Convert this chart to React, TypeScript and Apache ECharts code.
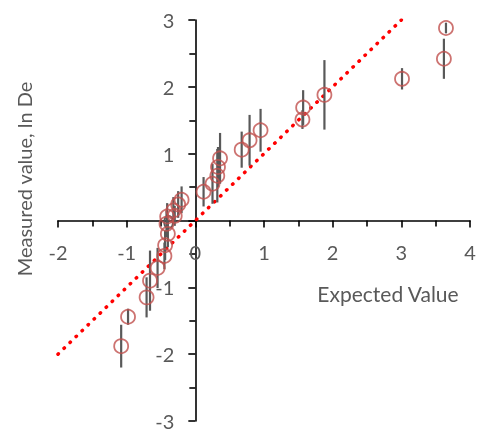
import React, { useEffect, useRef } from "react";
import * as echarts from "echarts";

const expectedValues = [-1.08, -0.98, -0.71, -0.66, -0.55, -0.45, -0.44, -0.4, -0.42, -0.41, -0.3, -0.32, -0.25, -0.2, 0.12, 0.25, 0.32, 0.33, 0.36, 0.675, 0.79, 0.95, 1.56, 1.57, 1.88, 3.01, 3.62, 3.65];
const measuredValues = [-1.88, -1.44, -1.15, -0.9, -0.71, -0.53, -0.37, -0.2, -0.05, 0.06, 0.07, 0.15, 0.24, 0.31, 0.43, 0.55, 0.67, 0.8, 0.93, 1.06, 1.2, 1.35, 1.51, 1.69, 1.88, 2.12, 2.42, 2.88];
const errorValues = [0.32, 0.12, 0.3, 0.45, 0.3, 0.2, 0.22, 0.2, 0.2, 0.2, 0.15, 0.2, 0.2, 0.2, 0.22, 0.3, 0.4, 0.3, 0.38, 0.27, 0.38, 0.32, 0.14, 0.26, 0.52, 0.16, 0.3, 0.08];
const oneToOneLine = [[-2, -2], [3, 3]];
const xTitle = "Expected Value";
const yTitle = "Measured value, ln De";

const FONT = "Lato";
const GRAY = "#595959";

const GRID_LEFT = 58;
const GRID_RIGHT = 10;
const GRID_TOP = 20;
const GRID_BOTTOM = 13;
const W = 480;
const H = 434;

export default function App() {
  const ref = useRef<HTMLDivElement>(null);
  useEffect(() => {
    if (!ref.current) return;
    const chart = echarts.init(ref.current, null, { renderer: "svg" });
    const points = expectedValues.map((x, i) => [x, measuredValues[i]]);
    const bars = expectedValues.map((x, i) => [x, measuredValues[i], errorValues[i]]);
    const gw = W - GRID_LEFT - GRID_RIGHT;
    const gh = H - GRID_TOP - GRID_BOTTOM;
    // shift axes so they cross at the origin
    const xOffset = -gh * (0 - -3) / 6;
    const yOffset = -gw * (0 - -2) / 6;
    const axisCommon = {
      type: "value" as const,
      interval: 1,
      splitLine: { show: false },
      axisLine: { onZero: false, lineStyle: { color: "#000", width: 1.6 } },
      axisTick: { show: true, length: 7, lineStyle: { color: "#000", width: 1.6 } },
      minorTick: { show: true, splitNumber: 2, length: 6, lineStyle: { color: "#000", width: 1.6 } },
      axisLabel: { color: GRAY, fontFamily: FONT, fontSize: 20, margin: 21 },
    };
    chart.setOption({
      animation: false,
      grid: {
        left: GRID_LEFT,
        right: GRID_RIGHT,
        top: GRID_TOP,
        bottom: GRID_BOTTOM,
        containLabel: false,
        outerBoundsMode: "none",
      },
      xAxis: { ...axisCommon, min: -2, max: 4, position: "bottom", offset: xOffset },
      yAxis: { ...axisCommon, min: -3, max: 3, position: "left", offset: yOffset },
      graphic: [
        {
          type: "text",
          x: 388,
          y: 293,
          style: { text: xTitle, fill: GRAY, font: `21px ${FONT}`, align: "center", verticalAlign: "middle" },
        },
        {
          type: "text",
          x: 24,
          y: 179,
          rotation: Math.PI / 2,
          style: { text: yTitle, fill: GRAY, font: `20px ${FONT}`, align: "center", verticalAlign: "middle" },
        },
      ],
      series: [
        {
          type: "line",
          data: oneToOneLine,
          symbol: "none",
          lineStyle: { color: "#FF0000", width: 3.5, type: [0.5, 7.9], cap: "round" },
          z: 1,
        },
        {
          type: "custom",
          data: bars,
          encode: { x: 0, y: 1 },
          z: 2,
          renderItem: (params: any, api: any) => {
            const x = api.value(0);
            const y = api.value(1);
            const e = api.value(2);
            const p1 = api.coord([x, y - e]);
            const p2 = api.coord([x, y + e]);
            return {
              type: "line",
              shape: { x1: p1[0], y1: p1[1], x2: p2[0], y2: p2[1] },
              style: { stroke: GRAY, lineWidth: 2.2 },
            };
          },
        },
        {
          type: "scatter",
          data: points,
          symbol: "circle",
          symbolSize: 14,
          itemStyle: { color: "rgba(0,0,0,0)", borderColor: "#C0504D", borderWidth: 1.8 },
          z: 3,
        },
      ],
    });
    return () => chart.dispose();
  }, []);
  return <div ref={ref} style={{ position: "fixed", left: 0, top: 0, width: W, height: H }} />;
}
